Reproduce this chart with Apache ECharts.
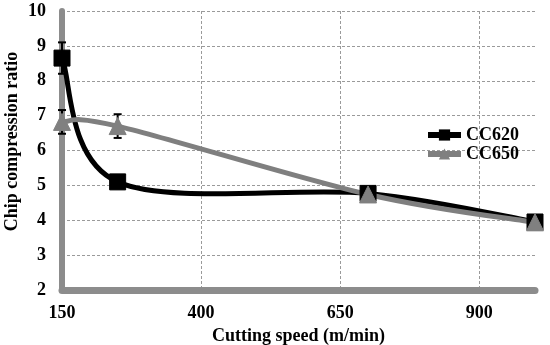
<!DOCTYPE html>
<html>
<head>
<meta charset="utf-8">
<script src="https://cdn.jsdelivr.net/npm/echarts@6/dist/echarts.min.js"></script>
<style>html,body{margin:0;padding:0;background:#fff}#c{width:550px;height:345px}</style>
</head>
<body>
<div id="c"></div>
<script>
var speeds = [150, 250, 700, 1000];
var cc620 = [8.65, 5.1, 4.77, 3.95];
var cc650 = [6.82, 6.7, 4.74, 3.94];
var err620 = [0.45, 0.12, 0.06, 0.06];
var err650 = [0.34, 0.34, 0.06, 0.06];
var seriesNames = ['CC620', 'CC650'];
var xTicks = [150, 400, 650, 900];
var yTicks = [2, 3, 4, 5, 6, 7, 8, 9, 10];

var FONT = '"Liberation Serif", "Times New Roman", serif';
var BLACK = '#000';
var GRAY = '#7f7f7f';
var chart = echarts.init(document.getElementById('c'));

function errData(vals, errs) {
  return speeds.map(function (x, i) { return [x, vals[i] - errs[i], vals[i] + errs[i]]; });
}
function errRender(params, api) {
  var x = api.value(0);
  var lo = api.coord([x, api.value(1)]);
  var hi = api.coord([x, api.value(2)]);
  var w = 4;
  var st = { stroke: '#000', lineWidth: 2 };
  return {
    type: 'group',
    children: [
      { type: 'line', shape: { x1: lo[0], y1: lo[1], x2: hi[0], y2: hi[1] }, style: st },
      { type: 'line', shape: { x1: lo[0] - w, y1: lo[1], x2: lo[0] + w, y2: lo[1] }, style: st },
      { type: 'line', shape: { x1: hi[0] - w, y1: hi[1], x2: hi[0] + w, y2: hi[1] }, style: st }
    ]
  };
}
// Spreadsheet-style smoothed curve (Catmull-Rom -> cubic Bezier) through the data points,
// mapped with the chart's own axes via api.coord.
function curveRender(vals, color) {
  return function (params, api) {
    if (params.dataIndex !== 0) return null;
    var n = speeds.length;
    var pts = speeds.map(function (x, i) { return api.coord([x, vals[i]]); });
    var d = 'M' + pts[0][0] + ',' + pts[0][1];
    for (var i = 0; i < n - 1; i++) {
      var p0 = pts[Math.max(i - 1, 0)], p1 = pts[i], p2 = pts[i + 1], p3 = pts[Math.min(i + 2, n - 1)];
      var c1x = p1[0] + (p2[0] - p0[0]) / 6, c1y = p1[1] + (p2[1] - p0[1]) / 6;
      var c2x = p2[0] - (p3[0] - p1[0]) / 6, c2y = p2[1] - (p3[1] - p1[1]) / 6;
      d += ' C' + c1x + ',' + c1y + ' ' + c2x + ',' + c2y + ' ' + p2[0] + ',' + p2[1];
    }
    return {
      type: 'path',
      shape: { pathData: d },
      style: { fill: null, stroke: color, lineWidth: 5, lineJoin: 'round', lineCap: 'round' }
    };
  };
}

chart.setOption({
  animation: false,
  backgroundColor: '#fff',
  grid: { left: 62, right: 15, top: 11, bottom: 55, outerBoundsMode: 'none', containLabel: false },
  legend: {
    orient: 'vertical', left: 425, top: 126, itemGap: 1, padding: 0,
    itemWidth: 33, itemHeight: 14,
    data: [
      { name: seriesNames[0], lineStyle: { width: 6, color: BLACK, opacity: 1 }, itemStyle: { color: BLACK } },
      { name: seriesNames[1], lineStyle: { width: 6, color: GRAY, opacity: 1 }, itemStyle: { color: '#808080' } }
    ],
    textStyle: { fontFamily: FONT, fontWeight: 'bold', fontSize: 18, color: '#000' }
  },
  xAxis: {
    type: 'value', min: xTicks[0], max: 1000, interval: xTicks[1] - xTicks[0],
    name: 'Cutting speed (m/min)', nameLocation: 'middle', nameGap: 32,
    nameTextStyle: { fontFamily: FONT, fontWeight: 'bold', fontSize: 18, color: '#000' },
    axisLine: { lineStyle: { color: '#8c8c8c', width: 7 } },
    axisTick: { show: false },
    axisLabel: { showMaxLabel: false, margin: 14, fontFamily: FONT, fontWeight: 'bold', fontSize: 18, color: '#000' },
    splitLine: { show: true, showMaxLine: false, showMinLine: false, lineStyle: { color: '#9a9a9a', type: [3, 2], width: 1 } }
  },
  yAxis: {
    type: 'value', min: yTicks[0], max: yTicks[yTicks.length - 1], interval: 1,
    name: 'Chip compression ratio', nameLocation: 'middle', nameGap: 41, nameMoveOverlap: false,
    nameTextStyle: { fontFamily: FONT, fontWeight: 'bold', fontSize: 18, color: '#000', padding: [0, 0, 0, 18] },
    axisLine: { show: true, lineStyle: { color: '#8c8c8c', width: 6 } },
    axisTick: { show: false },
    axisLabel: { margin: 16, fontFamily: FONT, fontWeight: 'bold', fontSize: 18, color: '#000' },
    splitLine: { show: true, lineStyle: { color: '#9a9a9a', type: [3, 2], width: 1 } }
  },
  series: [
    { type: 'custom', name: 'err620', renderItem: errRender, data: errData(cc620, err620), z: 1, silent: true },
    { type: 'custom', name: 'err650', renderItem: errRender, data: errData(cc650, err650), z: 1, silent: true },
    { type: 'custom', name: 'curve620', renderItem: curveRender(cc620, BLACK), data: speeds.map(function (x, i) { return [x, cc620[i]]; }), z: 2, silent: true },
    { type: 'custom', name: 'curve650', renderItem: curveRender(cc650, GRAY), data: speeds.map(function (x, i) { return [x, cc650[i]]; }), z: 3, silent: true },
    {
      type: 'line', name: seriesNames[0], z: 4,
      data: speeds.map(function (x, i) { return [x, cc620[i]]; }),
      symbol: 'rect', symbolSize: 16,
      lineStyle: { color: BLACK, width: 0, opacity: 0 },
      itemStyle: { color: BLACK, borderColor: BLACK }
    },
    {
      type: 'line', name: seriesNames[1], z: 5,
      data: speeds.map(function (x, i) { return [x, cc650[i]]; }),
      symbol: 'triangle', symbolSize: 17,
      lineStyle: { color: GRAY, width: 0, opacity: 0 },
      itemStyle: { color: '#808080', borderColor: '#808080' }
    }
  ]
});
</script>
</body>
</html>
